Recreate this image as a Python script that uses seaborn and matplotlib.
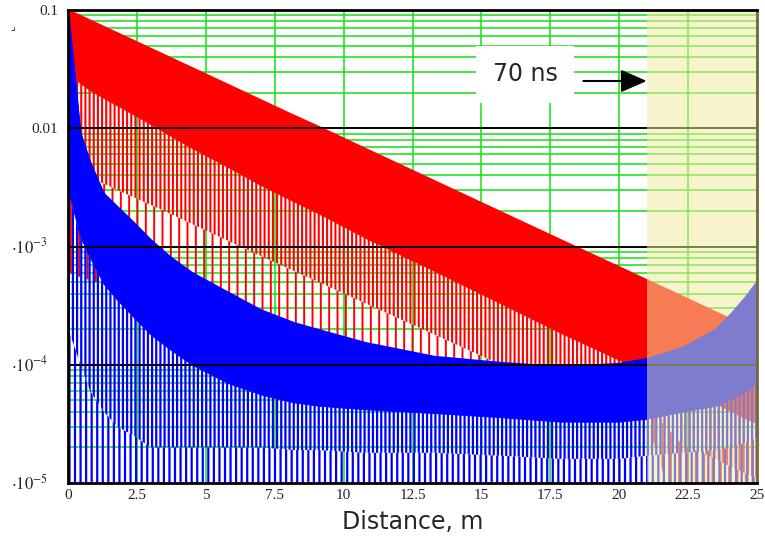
import numpy as np
import pandas as pd
import matplotlib
matplotlib.use("Agg")
import matplotlib.pyplot as plt
import matplotlib.transforms as mtransforms
import seaborn as sns

# ---------------- data (envelopes of the two traces) ----------------
dist_m = [0, 0.2, 0.45, 0.8, 1.3, 1.8, 2.4, 3, 3.7, 4.5, 5.8, 7, 8.2, 9.1, 10.8,
          13.3, 15.7, 17.9, 20, 21, 22.3, 23.5, 24.1, 24.6, 25]

# red trace: crest envelope, lower edge of dense body, end of dense dips, end of deep dips
red_peak = [0.1, 0.0951, 0.0894, 0.0818, 0.0722, 0.0637, 0.0548, 0.0472, 0.0396, 0.0324,
            0.0234, 0.0173, 0.0128, 0.0103, 0.0067, 0.00358, 0.00196, 0.00113, 6.7e-4,
            5.21e-4, 3.77e-4, 2.79e-4, 2.40e-4, 2.12e-4, 1.92e-4]
red_body = [0.03, 0.027, 0.024, 0.021, 0.018, 0.0155, 0.013, 0.0108, 0.0087, 0.0068,
            0.0047, 0.0033, 0.0024, 0.0019, 0.00118, 6.2e-4, 3.3e-4, 1.85e-4, 1.10e-4,
            8.6e-5, 6.3e-5, 4.7e-5, 4.0e-5, 3.5e-5, 3.2e-5]
red_dip = [5.0e-3, 4.6e-3, 4.2e-3, 3.8e-3, 3.4e-3, 3.0e-3, 2.6e-3, 2.25e-3, 1.9e-3,
           1.55e-3, 1.12e-3, 8.3e-4, 6.2e-4, 5.0e-4, 3.3e-4, 1.8e-4, 1.0e-4, 6.5e-5,
           5.0e-5, 4.5e-5, 2.1e-5, 1.6e-5, 1.35e-5, 1.2e-5, 1.1e-5]
red_deep = [6e-4, 5.8e-4, 5.5e-4, 5.2e-4, 4.8e-4, 4.4e-4, 4.0e-4, 3.5e-4, 3.0e-4, 2.5e-4,
            1.9e-4, 1.4e-4, 1.1e-4, 8.5e-5, 5.8e-5, 4.0e-5, 3.6e-5, 3.4e-5, 3.4e-5,
            3.4e-5, 3.6e-6, 2.7e-6, 2.3e-6, 2.0e-6, 1.8e-6]

# blue trace
blue_peak = [0.1, 0.035, 0.0091, 0.0052, 0.0028, 0.00216, 0.00158, 0.00114, 8.2e-4, 6.0e-4,
             4.1e-4, 2.9e-4, 2.26e-4, 1.97e-4, 1.53e-4, 1.17e-4, 1.04e-4, 9.6e-5, 1.02e-4,
             1.12e-4, 1.39e-4, 1.97e-4, 2.75e-4, 3.75e-4, 5.0e-4]
blue_body = [3e-3, 2e-3, 1.2e-3, 8e-4, 4.8e-4, 3.5e-4, 2.5e-4, 1.8e-4, 1.35e-4, 1.0e-4,
             7.0e-5, 5.6e-5, 4.8e-5, 4.5e-5, 4.2e-5, 3.9e-5, 3.6e-5, 3.3e-5, 3.3e-5,
             3.5e-5, 4.0e-5, 4.5e-5, 5.2e-5, 6.0e-5, 7.0e-5]
blue_dip = [2e-4, 1.5e-4, 1e-4, 6e-5, 4e-5, 3e-5, 2.5e-5, 2e-5, 2e-5, 2e-5, 2e-5, 2e-5,
            1.9e-5, 1.9e-5, 1.8e-5, 1.8e-5, 1.7e-5, 1.6e-5, 1.6e-5, 1.7e-5, 1.8e-5, 1.9e-5,
            2.0e-5, 2.2e-5, 2.4e-5]
blue_deep = [1e-6] * len(dist_m)

x_ticks = [0, 2.5, 5, 7.5, 10, 12.5, 15, 17.5, 20, 22.5, 25]
x_tick_labels = ["0", "2.5", "5", "7.5", "10", "12.5", "15", "17.5", "20", "22.5", "25"]
y_ticks = [1e-5, 1e-4, 1e-3, 1e-2, 1e-1]
y_tick_labels = [r"$\cdot10^{-5}$", r"$\cdot10^{-4}$", r"$\cdot10^{-3}$", "0.01", "0.1"]
shade_start, shade_end = 21, 25
note_text = "70 ns"

# ---------------- style ----------------
sns.set_theme(style="white")
plt.rcParams["font.family"] = ["DejaVu Sans"]
plt.rcParams["mathtext.fontset"] = "stix"

fig = plt.figure(figsize=(7.65, 5.38), dpi=100)
ax = fig.add_axes([68 / 765, 55 / 538, 689 / 765, 473 / 538])
ax.set_yscale("log")
ax.set_xlim(0, 25)
ax.set_ylim(1e-5, 0.1)

# grid
green = "#12e012"
ax.set_xticks(x_ticks)
ax.set_yticks(y_ticks)
ax.yaxis.set_minor_locator(matplotlib.ticker.LogLocator(base=10, subs=np.arange(2, 10)))
ax.yaxis.set_minor_formatter(matplotlib.ticker.NullFormatter())
ax.grid(False)
ax.grid(True, which="major", axis="x", color=green, lw=1.1, zorder=0.5)
ax.grid(True, which="minor", axis="y", color=green, lw=1.1, zorder=0.5)
ax.set_axisbelow(True)

df_red = pd.DataFrame({"dist": dist_m, "val": red_peak})
df_blue = pd.DataFrame({"dist": dist_m, "val": blue_peak})


def comb(lo, hi, color, pattern, hlw, z):
    plt.rcParams["hatch.linewidth"] = hlw
    coll = ax.fill_between(dist_m, lo, hi, facecolor="none", edgecolor=color,
                           hatch=pattern, linewidth=0, zorder=z)
    if hasattr(coll, "set_hatch_linewidth"):
        coll.set_hatch_linewidth(hlw)


# red trace
comb(red_deep, red_dip, "red", "||", 1.4, 2)
comb(red_dip, red_body, "red", "||||", 1.5, 2)
ax.fill_between(dist_m, red_body, red_peak, facecolor="red", edgecolor="red", lw=0.6, zorder=2)
sns.lineplot(data=df_red, x="dist", y="val", color="red", lw=1.3, ax=ax, zorder=2)

# blue trace
comb(blue_deep, blue_dip, "blue", "|||", 1.6, 3)
comb(blue_dip, blue_body, "blue", "||||", 1.6, 3)
ax.fill_between(dist_m, blue_body, blue_peak, facecolor="blue", edgecolor="blue", lw=0.6, zorder=3)
sns.lineplot(data=df_blue, x="dist", y="val", color="blue", lw=1.3, ax=ax, zorder=3)

# black decade lines
for yv in y_ticks[1:-1]:
    ax.axhline(yv, color="black", lw=1.4, zorder=4)

# shaded window
ax.axvspan(shade_start, shade_end, color=(0.94, 0.925, 0.63), alpha=0.53, lw=0, zorder=5)

# annotation
ax.text(16.58, 0.0285, note_text, fontsize=17, ha="center", va="center", zorder=6,
        family="DejaVu Sans",
        bbox=dict(boxstyle="square,pad=0.7", facecolor="white", edgecolor="none"))
ax.annotate("", xy=(shade_start, 0.0251), xytext=(18.7, 0.0251), zorder=6,
            arrowprops=dict(arrowstyle="-|>,head_length=0.8,head_width=0.35",
                            color="black", lw=1.5, mutation_scale=20,
                            shrinkA=0, shrinkB=0))

# ticks and labels (plain decimals as tick labels, power labels as text next to the axis)
plain_labels = [lab if not lab.startswith("$") else "" for lab in y_tick_labels]
ax.set_xticklabels(x_tick_labels, fontsize=11, family="Liberation Serif")
ax.set_yticklabels(plain_labels, fontsize=11, family="Liberation Serif")
ax.tick_params(axis="both", which="both", length=0)
ax.tick_params(axis="x", pad=4)
ax.tick_params(axis="y", pad=7)
lab_trans = ax.get_yaxis_transform() + mtransforms.ScaledTranslation(0, -7 / 100, fig.dpi_scale_trans)
for yv, lab in zip(y_ticks, y_tick_labels):
    if lab.startswith("$"):
        ax.text(-20 / 689, yv, lab, transform=lab_trans, ha="right", va="baseline",
                fontsize=12, clip_on=False)
ax.set_xlabel("Distance, m", fontsize=17, family="DejaVu Sans", labelpad=6)
ax.set_ylabel("")

for name, sp in ax.spines.items():
    sp.set_visible(True)
    sp.set_color("black")
    sp.set_linewidth(2)
    sp.set_zorder(6)
ax.spines["right"].set_color("#6d6a45")

fig.text(10 / 765, 1 - 30 / 538, "\u231f", fontsize=7, color="black", family="DejaVu Sans")

fig.savefig("out.png", dpi=100)
